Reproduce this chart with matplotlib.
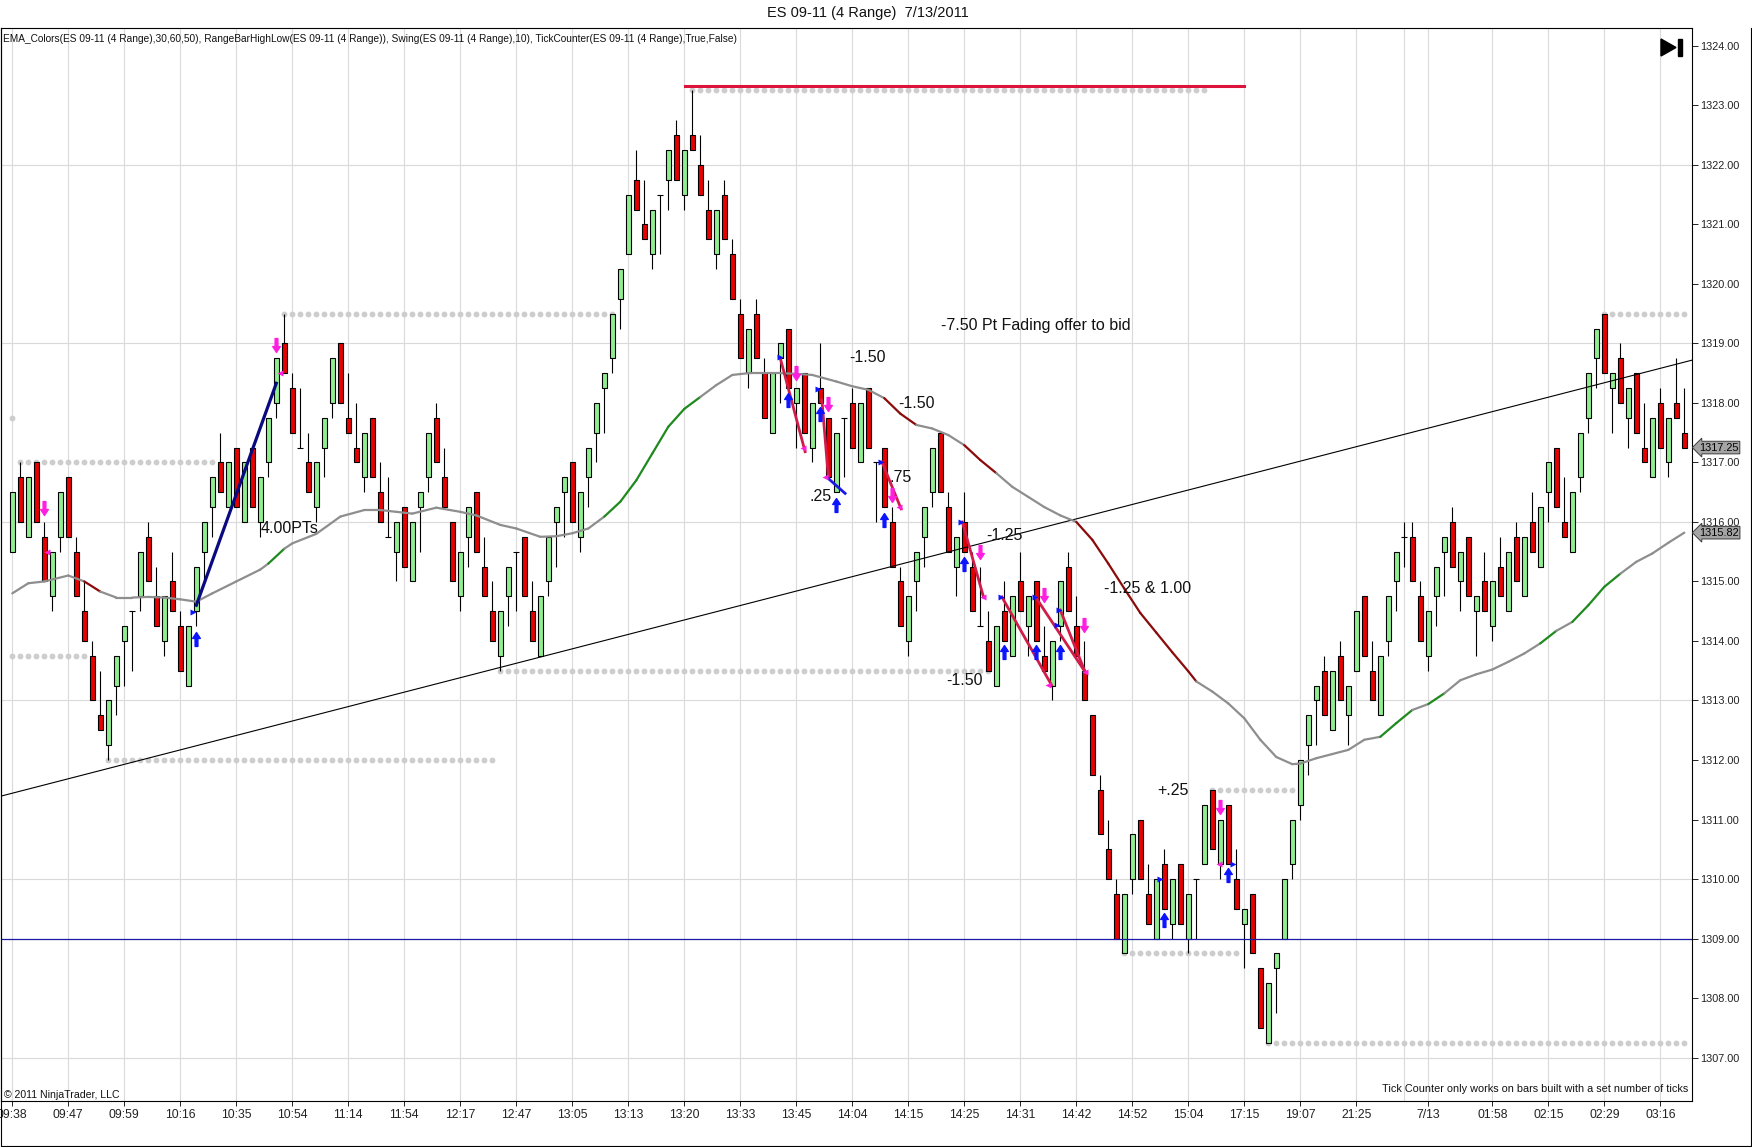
import numpy as np
import matplotlib
matplotlib.use("Agg")
import matplotlib.pyplot as plt
import matplotlib.font_manager as fm
from matplotlib.path import Path
from matplotlib.patches import Polygon
from matplotlib.transforms import blended_transform_factory

plt.rcParams['font.family'] = ['Liberation Sans', 'DejaVu Sans']
names = {f.name for f in fm.fontManager.ttflist}
narrow = 'Liberation Sans Narrow' if 'Liberation Sans Narrow' in names else 'Liberation Sans'

# --- range bars (one row = 10 bars) ---
opens = [
    1315.50, 1316.75, 1315.75, 1317.00, 1315.75, 1314.75, 1315.75, 1316.75, 1315.50, 1314.50,
    1313.75, 1312.75, 1312.25, 1313.25, 1314.00, 1314.50, 1314.75, 1315.75, 1314.75, 1314.00,
    1315.00, 1314.25, 1313.25, 1314.50, 1315.50, 1316.25, 1317.00, 1316.25, 1317.25, 1316.00,
    1317.25, 1316.00, 1317.00, 1318.00, 1319.00, 1318.25, 1317.25, 1317.00, 1316.25, 1317.25,
    1318.00, 1319.00, 1317.75, 1317.25, 1316.75, 1317.75, 1316.50, 1315.75, 1315.50, 1316.25,
    1315.00, 1316.25, 1316.75, 1317.75, 1316.75, 1316.00, 1314.75, 1315.75, 1316.50, 1315.25,
    1314.50, 1313.75, 1314.75, 1315.50, 1315.75, 1314.50, 1313.75, 1315.00, 1316.00, 1316.50,
    1317.00, 1315.75, 1316.75, 1317.50, 1318.25, 1318.75, 1319.75, 1320.50, 1321.75, 1321.00,
    1320.50, 1321.50, 1321.75, 1322.50, 1321.50, 1322.50, 1322.00, 1321.25, 1320.50, 1321.50,
    1320.50, 1319.50, 1318.50, 1319.50, 1318.50, 1317.50, 1318.75, 1319.25, 1318.00, 1318.50,
    1317.25, 1318.25, 1317.75, 1316.50, 1317.75, 1318.00, 1317.00, 1318.25, 1317.00, 1317.25,
    1316.00, 1315.00, 1314.00, 1315.00, 1315.75, 1316.50, 1317.50, 1316.25, 1315.25, 1316.00,
    1315.25, 1314.25, 1314.00, 1313.25, 1314.50, 1313.75, 1315.00, 1314.25, 1315.00, 1313.75,
    1313.25, 1314.25, 1315.25, 1314.25, 1313.50, 1312.75, 1311.50, 1310.50, 1309.75, 1308.75,
    1310.00, 1311.00, 1309.75, 1309.00, 1310.25, 1309.25, 1310.25, 1309.00, 1310.00, 1310.25,
    1311.50, 1310.25, 1311.25, 1310.00, 1309.25, 1309.75, 1308.50, 1307.25, 1308.50, 1309.00,
    1310.25, 1311.25, 1312.25, 1313.00, 1313.50, 1312.50, 1313.75, 1312.75, 1313.50, 1314.75,
    1313.50, 1312.75, 1314.00, 1315.00, 1315.75, 1315.75, 1314.75, 1313.75, 1314.75, 1315.50,
    1316.00, 1315.00, 1315.75, 1314.50, 1315.00, 1314.25, 1315.25, 1314.50, 1315.75, 1314.75,
    1316.00, 1315.25, 1316.50, 1317.25, 1316.00, 1315.50, 1316.75, 1317.75, 1318.75, 1319.50,
    1318.25, 1318.75, 1317.75, 1318.50, 1317.25, 1316.75, 1318.00, 1317.00, 1318.00, 1317.50,
]
highs = [
    1316.50, 1317.00, 1316.75, 1317.00, 1316.00, 1315.50, 1316.50, 1316.75, 1315.75, 1315.00,
    1314.00, 1313.50, 1313.00, 1313.75, 1314.25, 1314.50, 1315.50, 1316.00, 1315.25, 1314.75,
    1315.50, 1314.50, 1314.25, 1315.25, 1316.00, 1316.75, 1317.50, 1317.00, 1317.25, 1317.00,
    1317.25, 1316.75, 1317.75, 1318.75, 1319.50, 1318.50, 1318.25, 1317.50, 1317.00, 1317.75,
    1318.75, 1319.00, 1318.50, 1318.00, 1317.50, 1317.75, 1317.00, 1316.75, 1316.00, 1316.25,
    1316.00, 1316.50, 1317.50, 1318.00, 1317.25, 1316.00, 1315.50, 1316.25, 1316.50, 1315.75,
    1315.00, 1314.50, 1315.25, 1315.50, 1315.75, 1315.00, 1314.75, 1315.75, 1316.25, 1316.75,
    1317.00, 1316.50, 1317.25, 1318.00, 1318.50, 1319.50, 1320.25, 1321.50, 1322.25, 1321.75,
    1321.25, 1321.50, 1322.25, 1322.75, 1322.25, 1323.25, 1322.50, 1321.75, 1321.25, 1321.75,
    1320.75, 1319.75, 1319.25, 1319.75, 1318.75, 1318.50, 1319.00, 1319.25, 1318.25, 1318.50,
    1318.00, 1319.00, 1317.75, 1317.50, 1317.75, 1318.25, 1318.00, 1318.25, 1317.00, 1317.25,
    1316.25, 1315.25, 1314.75, 1315.50, 1316.25, 1317.25, 1317.50, 1316.50, 1315.75, 1316.50,
    1315.50, 1315.25, 1314.50, 1314.25, 1315.00, 1314.75, 1315.50, 1314.75, 1315.00, 1314.25,
    1314.00, 1315.00, 1315.50, 1314.75, 1314.00, 1312.75, 1311.75, 1311.00, 1310.00, 1309.75,
    1310.75, 1311.00, 1310.25, 1310.00, 1310.50, 1310.00, 1310.25, 1309.75, 1310.00, 1311.25,
    1311.50, 1311.00, 1311.25, 1310.50, 1309.50, 1309.75, 1308.50, 1308.25, 1308.75, 1310.00,
    1311.00, 1312.00, 1312.75, 1313.25, 1313.75, 1313.50, 1314.00, 1313.25, 1314.50, 1314.75,
    1314.00, 1313.75, 1314.75, 1315.50, 1316.00, 1316.00, 1315.00, 1314.50, 1315.25, 1315.75,
    1316.25, 1315.50, 1315.75, 1314.75, 1315.50, 1315.00, 1315.75, 1315.50, 1316.00, 1315.75,
    1316.50, 1316.25, 1317.00, 1317.25, 1316.75, 1316.50, 1317.50, 1318.50, 1319.25, 1319.50,
    1318.50, 1319.00, 1318.25, 1318.50, 1318.00, 1317.75, 1318.25, 1317.75, 1318.75, 1318.25,
]
lows = [
    1315.50, 1316.00, 1315.75, 1316.00, 1315.00, 1314.50, 1315.50, 1315.75, 1314.75, 1314.00,
    1313.00, 1312.50, 1312.00, 1312.75, 1313.25, 1313.50, 1314.50, 1315.00, 1314.25, 1313.75,
    1314.50, 1313.50, 1313.25, 1314.25, 1315.00, 1315.75, 1316.50, 1316.25, 1316.25, 1316.00,
    1316.25, 1315.75, 1316.75, 1317.75, 1318.50, 1317.50, 1317.25, 1316.50, 1316.00, 1316.75,
    1317.75, 1318.00, 1317.50, 1317.00, 1316.50, 1316.75, 1316.00, 1315.75, 1315.00, 1315.25,
    1315.00, 1315.50, 1316.50, 1317.00, 1316.25, 1315.00, 1314.50, 1315.25, 1315.50, 1314.75,
    1314.00, 1313.50, 1314.25, 1314.50, 1314.75, 1314.00, 1313.75, 1314.75, 1315.25, 1315.75,
    1316.00, 1315.50, 1316.25, 1317.00, 1317.50, 1318.50, 1319.25, 1320.50, 1321.25, 1320.75,
    1320.25, 1320.50, 1321.25, 1321.75, 1321.25, 1322.25, 1321.50, 1320.75, 1320.25, 1320.75,
    1319.75, 1318.75, 1318.25, 1318.75, 1317.75, 1317.50, 1318.00, 1318.25, 1317.25, 1317.50,
    1317.00, 1318.00, 1316.75, 1316.50, 1316.75, 1317.25, 1317.00, 1317.25, 1316.00, 1316.25,
    1315.25, 1314.25, 1313.75, 1314.50, 1315.25, 1316.25, 1316.50, 1315.50, 1314.75, 1315.50,
    1314.50, 1314.25, 1313.50, 1313.25, 1314.00, 1313.75, 1314.50, 1313.75, 1314.00, 1313.50,
    1313.00, 1314.00, 1314.50, 1313.75, 1313.00, 1311.75, 1310.75, 1310.00, 1309.00, 1308.75,
    1309.75, 1310.00, 1309.25, 1309.00, 1309.50, 1309.00, 1309.25, 1308.75, 1309.00, 1310.25,
    1310.50, 1310.00, 1310.25, 1309.50, 1308.50, 1308.75, 1307.50, 1307.25, 1307.75, 1309.00,
    1310.00, 1311.00, 1311.75, 1312.25, 1312.75, 1312.50, 1313.00, 1312.25, 1313.50, 1313.75,
    1313.00, 1312.75, 1313.75, 1314.50, 1315.25, 1315.00, 1314.00, 1313.50, 1314.25, 1314.75,
    1315.25, 1314.50, 1314.75, 1313.75, 1314.50, 1314.00, 1314.75, 1314.50, 1315.00, 1314.75,
    1315.50, 1315.25, 1316.00, 1316.25, 1315.75, 1315.50, 1316.50, 1317.50, 1318.25, 1318.50,
    1317.50, 1318.00, 1317.25, 1317.50, 1317.00, 1316.75, 1317.25, 1316.75, 1317.75, 1317.25,
]
closes = [
    1316.50, 1316.00, 1316.75, 1316.00, 1315.00, 1315.50, 1316.50, 1315.75, 1314.75, 1314.00,
    1313.00, 1312.50, 1313.00, 1313.75, 1314.25, 1314.50, 1315.50, 1315.00, 1314.25, 1314.75,
    1314.50, 1313.50, 1314.25, 1315.25, 1316.00, 1316.75, 1316.50, 1317.00, 1316.25, 1317.00,
    1316.25, 1316.75, 1317.75, 1318.75, 1318.50, 1317.50, 1317.25, 1316.50, 1317.00, 1317.75,
    1318.75, 1318.00, 1317.50, 1317.00, 1317.50, 1316.75, 1316.00, 1315.75, 1316.00, 1315.25,
    1316.00, 1316.50, 1317.50, 1317.00, 1316.25, 1315.00, 1315.50, 1316.25, 1315.50, 1314.75,
    1314.00, 1314.50, 1315.25, 1315.50, 1314.75, 1314.00, 1314.75, 1315.75, 1316.25, 1316.75,
    1316.00, 1316.50, 1317.25, 1318.00, 1318.50, 1319.50, 1320.25, 1321.50, 1321.25, 1320.75,
    1321.25, 1321.50, 1322.25, 1321.75, 1322.25, 1322.25, 1321.50, 1320.75, 1321.25, 1320.75,
    1319.75, 1318.75, 1319.25, 1318.75, 1317.75, 1318.50, 1319.00, 1318.25, 1318.25, 1317.50,
    1318.00, 1318.00, 1316.75, 1317.50, 1317.75, 1317.25, 1318.00, 1317.25, 1317.00, 1316.25,
    1315.25, 1314.25, 1314.75, 1315.50, 1316.25, 1317.25, 1316.50, 1315.50, 1315.75, 1315.50,
    1314.50, 1314.25, 1313.50, 1314.25, 1314.00, 1314.75, 1314.50, 1314.75, 1314.00, 1313.50,
    1314.00, 1315.00, 1314.50, 1313.75, 1313.00, 1311.75, 1310.75, 1310.00, 1309.00, 1309.75,
    1310.75, 1310.00, 1309.25, 1310.00, 1309.50, 1310.00, 1309.25, 1309.75, 1310.00, 1311.25,
    1310.50, 1311.00, 1310.25, 1309.50, 1309.50, 1308.75, 1307.50, 1308.25, 1308.75, 1310.00,
    1311.00, 1312.00, 1312.75, 1313.25, 1312.75, 1313.50, 1313.00, 1313.25, 1314.50, 1313.75,
    1313.00, 1313.75, 1314.75, 1315.50, 1315.75, 1315.00, 1314.00, 1314.50, 1315.25, 1315.75,
    1315.25, 1315.50, 1314.75, 1314.75, 1314.50, 1315.00, 1314.75, 1315.50, 1315.00, 1315.75,
    1315.50, 1316.25, 1317.00, 1316.25, 1315.75, 1316.50, 1317.50, 1318.50, 1319.25, 1318.50,
    1318.50, 1318.00, 1318.25, 1317.50, 1317.00, 1317.75, 1317.25, 1317.75, 1317.75, 1317.25,
]

# EMA_Colors line; state: n = flat (gray), u = rising (green), d = falling (maroon)
ema_bars = [0, 2, 4, 7, 9, 11, 13, 15, 17, 19, 21, 23, 25, 28, 31, 32, 34, 35, 38, 41,
            44, 46, 48, 50, 53, 56, 58, 61, 63, 66, 68, 70, 72, 74, 76, 78, 80, 82, 84, 86,
            88, 90, 92, 94, 96, 98, 100, 103, 105, 107, 109, 111, 113, 115, 117, 119, 121, 123, 125, 127,
            129, 131, 133, 135, 137, 139, 141, 143, 145, 147, 148, 150, 152, 154, 156, 158, 160, 161, 163, 165,
            167, 169, 171, 173, 175, 177, 179, 181, 183, 185, 187, 189, 191, 193, 195, 197, 199, 201, 203, 205,
            207, 209]
ema_vals = [1314.80, 1314.97, 1315.00, 1315.10, 1315.00, 1314.83, 1314.73, 1314.73, 1314.74, 1314.73,
            1314.70, 1314.66, 1314.80, 1315.00, 1315.20, 1315.30, 1315.55, 1315.64, 1315.80, 1316.09,
            1316.20, 1316.20, 1316.17, 1316.14, 1316.24, 1316.17, 1316.11, 1315.95, 1315.89, 1315.75,
            1315.76, 1315.81, 1315.89, 1316.09, 1316.34, 1316.70, 1317.15, 1317.60, 1317.90, 1318.10,
            1318.30, 1318.47, 1318.50, 1318.50, 1318.50, 1318.49, 1318.47, 1318.36, 1318.28, 1318.22,
            1318.08, 1317.82, 1317.63, 1317.57, 1317.46, 1317.29, 1317.04, 1316.82, 1316.59, 1316.42,
            1316.25, 1316.11, 1316.00, 1315.70, 1315.30, 1314.88, 1314.47, 1314.14, 1313.81, 1313.49,
            1313.32, 1313.15, 1312.95, 1312.70, 1312.34, 1312.05, 1311.93, 1311.94, 1312.03, 1312.10,
            1312.17, 1312.34, 1312.39, 1312.62, 1312.84, 1312.94, 1313.12, 1313.34, 1313.44, 1313.52,
            1313.65, 1313.79, 1313.96, 1314.17, 1314.32, 1314.60, 1314.91, 1315.13, 1315.33, 1315.47,
            1315.65, 1315.82]
ema_state = list("nnnnd" "nnnnnnnnnnu" "nnnnnnnnnnnnnnnnn" "uuuuuu" "nnnnnnnnnnn"
                 "dd" "nnn" "dd" "nnnnn" "dddddddd" "nnnnnnnnnnnn" "uu" "n" "u" "nnnnnn" "u" "n"
                 "uuu" "nnnn")

# RangeBarHighLow dotted levels: start bar, end bar, price
dot_start = [0, 0, 1, 12, 34, 61, 85, 139, 150, 157, 199]
dot_end = [0, 9, 25, 60, 75, 122, 149, 153, 160, 209, 209]
dot_price = [1317.75, 1313.75, 1317.00, 1312.00, 1319.50, 1313.50, 1323.25, 1308.75, 1311.50, 1307.25, 1319.50]

# swing arrows (bar, price)
up_bars = [23, 97, 101, 103, 109, 119, 124, 128, 131, 144, 152]
up_prices = [1314.04, 1318.05, 1317.82, 1316.28, 1316.03, 1315.30, 1313.82, 1313.82, 1313.82, 1309.31, 1310.06]
down_bars = [4, 33, 98, 102, 110, 121, 129, 134, 151]
down_prices = [1316.23, 1318.97, 1318.50, 1317.99, 1316.45, 1315.50, 1314.77, 1314.27, 1311.21]
start_marks_bar = [22.6, 96.0, 100.7, 108.6, 118.6, 123.6, 127.8, 130.8, 130.6, 143.5, 152.6]
start_marks_price = [1314.49, 1318.78, 1318.24, 1317.01, 1316.00, 1314.74, 1314.74, 1314.52, 1314.27, 1310.00, 1310.25]
end_marks_bar = [4.3, 33.5, 98.8, 101.6, 110.8, 121.3, 129.5, 134.1, 150.8]
end_marks_price = [1315.50, 1318.50, 1317.24, 1316.76, 1316.25, 1314.74, 1313.26, 1313.48, 1310.25]

# drawn lines: (bar0, price0, bar1, price1)
red_swings = [(96.0, 1318.75, 99.1, 1317.18), (101.2, 1318.05, 102.0, 1316.76),
              (108.7, 1317.01, 111.1, 1316.22), (118.75, 1316.00, 121.4, 1314.74),
              (123.7, 1314.74, 129.9, 1313.26), (127.9, 1314.74, 134.1, 1313.48),
              (131.0, 1314.52, 134.1, 1313.48)]
blue_swing = (102.0, 1316.73, 104.1, 1316.48)
pts_line = (23.0, 1314.60, 33.0, 1318.33)
trend_line = (-1.5, 1311.39, 210.0, 1318.72)
high_line = (84.1, 153.9, 1323.33)
support_price = 1309.00

# text notes: label, bar, price
note_text = ["4.00PTs", "-7.50 Pt Fading offer to bid", "-1.50", "-1.50", ".75", ".25",
             "-1.25", "-1.50", "-1.25 & 1.00", "+.25"]
note_bar = [31.1, 116.1, 104.6, 110.75, 109.7, 99.6, 121.8, 116.7, 136.5, 143.1]
note_price = [1315.89, 1319.30, 1318.77, 1317.99, 1316.75, 1316.42, 1315.78, 1313.33, 1314.88, 1311.49]

tick_bars = list(range(0, 169, 7)) + [177, 185, 192, 199, 206]
tick_labels = ['09:38', '09:47', '09:59', '10:16', '10:35', '10:54', '11:14', '11:54', '12:17', '12:47',
               '13:05', '13:13', '13:20', '13:33', '13:45', '14:04', '14:15', '14:25', '14:31', '14:42',
               '14:52', '15:04', '17:15', '19:07', '21:25', '7/13', '01:58', '02:15', '02:29', '03:16']
grid_bars = tick_bars + [174]
grid_prices = [1307, 1310, 1313, 1316, 1319, 1322]
y_ticks = list(range(1307, 1325))

W, H = 1752, 1147
fig = plt.figure(figsize=(W / 100, H / 100), dpi=100)
fig.patch.set_facecolor('white')
ax = fig.add_axes([0.5 / W, (H - 1101) / H, (1692 - 0.5) / W, (1101 - 28) / H])
ax.set_xlim(-1.475, 209.96)
ax.set_ylim(1306.27, 1324.30)

# grid
for b in grid_bars:
    ax.axvline(b, color='#dadada', lw=0.8, zorder=0)
for p in grid_prices:
    ax.axhline(p, color='#dadada', lw=0.8, zorder=0)

# dotted high/low levels
for s, e, p in zip(dot_start, dot_end, dot_price):
    xs = np.arange(s, e + 1)
    ax.plot(xs, [p] * len(xs), ls='none', marker='o', ms=4.2, color='#cdcdcd', mec='none', zorder=1)

# candles
o = np.array(opens); h = np.array(highs); l = np.array(lows); c = np.array(closes)
x = np.arange(len(o))
up = c > o
dn = c < o
dj = c == o
ax.vlines(x, l, h, color='black', lw=0.8, zorder=3)
ax.bar(x[up], (c - o)[up], bottom=o[up], width=0.7, color='#90ee90', edgecolor='black', lw=0.8, zorder=4)
ax.bar(x[dn], (o - c)[dn], bottom=c[dn], width=0.7, color='#e60000', edgecolor='black', lw=0.8, zorder=4)
ax.hlines(o[dj], x[dj] - 0.38, x[dj] + 0.38, color='black', lw=0.8, zorder=4)

# trend lines
ax.plot([trend_line[0], trend_line[2]], [trend_line[1], trend_line[3]], color='black', lw=0.8, zorder=5)
ax.axhline(support_price, color='#1a1aa6', lw=0.9, zorder=5)
ax.plot([high_line[0], high_line[1]], [high_line[2]] * 2, color='#dc143c', lw=2.2, zorder=5)

# EMA with direction colours
ema_colors = {'n': '#8e8e8e', 'u': '#1f8a1f', 'd': '#8b0a0a'}
for k in range(len(ema_bars) - 1):
    ax.plot(ema_bars[k:k + 2], ema_vals[k:k + 2], color=ema_colors[ema_state[k]], lw=1.6,
            solid_capstyle='round', zorder=6)

# swing lines
for x0, y0, x1, y1 in red_swings:
    ax.plot([x0, x1], [y0, y1], color='#d01c48', lw=2.0, zorder=7)
ax.plot([blue_swing[0], blue_swing[2]], [blue_swing[1], blue_swing[3]], color='#1a1ae6', lw=2.0, zorder=7)
ax.plot([pts_line[0], pts_line[2]], [pts_line[1], pts_line[3]], color='#0a0a80', lw=2.3, zorder=7)

# arrows
av = [(-0.2, -1), (0.2, -1), (0.2, 0.15), (0.55, 0.15), (0, 1), (-0.55, 0.15), (-0.2, 0.15), (-0.2, -1)]
codes = [Path.MOVETO] + [Path.LINETO] * 6 + [Path.CLOSEPOLY]
up_mk = Path(av, codes)
dn_mk = Path([(px, -py) for px, py in av], codes)
ax.plot(up_bars, up_prices, ls='none', marker=up_mk, ms=10, color='#0a14ff', mec='#0a14ff', zorder=8)
ax.plot(down_bars, down_prices, ls='none', marker=dn_mk, ms=10, color='#ff1ee0', mec='#ff1ee0', zorder=8)
ax.plot(start_marks_bar, start_marks_price, ls='none', marker='>', ms=5, color='#0a14ff', mec='none', zorder=8)
ax.plot(end_marks_bar, end_marks_price, ls='none', marker='<', ms=5, color='#ff1ee0', mec='none', zorder=8)

# notes
for t, b, p in zip(note_text, note_bar, note_price):
    ax.text(b, p, t, fontsize=11.5, ha='left', va='center', color='#111111', zorder=9)

# axes styling
ax.set_xticks(tick_bars)
ax.set_xticklabels(tick_labels, family=[narrow, 'DejaVu Sans'])
ax.yaxis.tick_right()
ax.set_yticks(y_ticks)
ax.set_yticklabels([f'{v:.2f}' for v in y_ticks])
ax.tick_params(axis='x', direction='out', length=3.5, width=0.7, pad=2.5, labelsize=8.8, colors='#222222')
ax.tick_params(axis='y', direction='out', length=4.5, width=0.7, pad=1.5, labelsize=7.8, colors='#222222')
for sp in ax.spines.values():
    sp.set_color('black')
    sp.set_linewidth(0.8)

# price markers on the axis
bt = blended_transform_factory(ax.transAxes, ax.transData)
for val in [closes[-1], ema_vals[-1]]:
    ax.text(1.0 + 7 / 1692, val, f'{val:.2f}', transform=bt, fontsize=7.8, ha='left', va='center',
            color='black', clip_on=False, zorder=10,
            bbox=dict(boxstyle='larrow,pad=0.12', fc='#a4a4a4', ec='#3c3c3c', lw=0.7))

# overlay in pixel coordinates for the frame and captions
ov = fig.add_axes([0, 0, 1, 1])
ov.set_xlim(0, W)
ov.set_ylim(H, 0)
ov.axis('off')
ov.plot([0.5, 0.5, W - 0.8, W - 0.8], [28, H - 0.8, H - 0.8, 28], color='black', lw=0.8)
ov.text(W / 2 - 8, 13, 'ES 09-11 (4 Range)  7/13/2011', fontsize=10.5, ha='center', va='center', color='#111111')
ov.text(3, 39, 'EMA_Colors(ES 09-11 (4 Range),30,60,50), RangeBarHighLow(ES 09-11 (4 Range)), '
        'Swing(ES 09-11 (4 Range),10), TickCounter(ES 09-11 (4 Range),True,False)',
        fontsize=7.3, ha='left', va='center', color='#111111')
ov.text(4, 1095, '\u00a9 2011 NinjaTrader, LLC', fontsize=7.6, ha='left', va='center', color='#111111',
        family=[narrow, 'DejaVu Sans'])
ov.text(1688, 1089, 'Tick Counter only works on bars built with a set number of ticks', fontsize=7.8,
        ha='right', va='center', color='#111111', family=[narrow, 'DejaVu Sans'])
ov.add_patch(Polygon([(1661, 39), (1661, 56), (1676, 47.5)], closed=True, fc='black', ec='black'))
ov.add_patch(Polygon([(1678, 39), (1682, 39), (1682, 56), (1678, 56)], closed=True, fc='black', ec='black'))

fig.savefig('out.png', dpi=100, facecolor='white')
